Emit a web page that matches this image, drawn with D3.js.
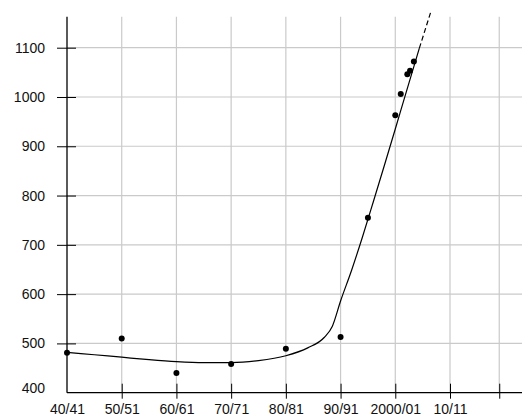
<!DOCTYPE html>
<html>
<head>
<meta charset="utf-8">
<script src="https://cdn.jsdelivr.net/npm/d3@7"></script>
<style>
  body { margin: 0; background: #fff; }
  svg text { font-family: "Liberation Sans", Arial, sans-serif; font-size: 14px; fill: #111; }
</style>
</head>
<body>
<svg class="chart" width="523" height="420"></svg>
<script>
// tick positions (start year of each season) and labels
var tickYears = [1940, 1950, 1960, 1970, 1980, 1990, 2000, 2010, 2019];
var tickLabels = ["40/41", "50/51", "60/61", "70/71", "80/81", "90/91", "2000/01", "10/11", ""];
var yTicks = [400, 500, 600, 700, 800, 900, 1000, 1100];

// observed points
var pointYears = [1940, 1950, 1960, 1970, 1980, 1990, 1995, 2000, 2001, 2002.2, 2002.7, 2003.4];
var pointValues = [481, 510, 440, 458, 489, 513, 755, 963, 1006, 1046, 1053, 1072];

// fitted trend (solid part) and its projection (dashed part)
var trendYears = [1940, 1945, 1950, 1955, 1960, 1965, 1970, 1975, 1980, 1984, 1987, 1988.5, 1990, 1992, 1994, 1996, 1998, 2000, 2002, 2004.4];
var trendValues = [482, 477, 472, 467, 463, 461, 461, 465, 475, 491, 512, 535, 586, 648, 716, 788, 861, 935, 1010, 1099];
var projYears = [2004.4, 2006.5];
var projValues = [1099, 1173];

var svg = d3.select('.chart');

var x = d3.scaleLinear().domain([1940, 2010]).range([67, 450]);
var y = d3.scaleLinear().domain([400, 1100]).range([392.7, 47.7]);

var xEnd = 522, yTop = 16.7;

// grid
svg.append('g')
  .selectAll('line')
  .data(yTicks.slice(1))
  .enter().append('line')
    .attr('x1', x(1940)).attr('x2', xEnd)
    .attr('y1', (d) => y(d)).attr('y2', (d) => y(d))
    .attr('stroke', '#cacaca').attr('stroke-width', 1.2);

svg.append('g')
  .selectAll('line')
  .data(tickYears.slice(1))
  .enter().append('line')
    .attr('x1', (d) => x(d)).attr('x2', (d) => x(d))
    .attr('y1', yTop).attr('y2', y(400))
    .attr('stroke', '#cacaca').attr('stroke-width', 1.2);

// y axis
var yAxis = svg.append('g')
  .attr('transform', 'translate(' + x(1940) + ',0)')
  .call(d3.axisLeft(y).tickValues(yTicks).tickSize(0).tickPadding(22).tickFormat(d3.format('d')));
yAxis.select('.domain').remove();
yAxis.selectAll('.tick line')
  .attr('x1', -10).attr('x2', 9)
  .attr('stroke', '#000')
  .attr('display', (d) => d === 400 ? 'none' : null);
yAxis.selectAll('.tick text')
  .attr('font-size', null).attr('font-family', null)
  .attr('dy', (d) => d === 400 ? '-0.05em' : '0.32em');

// x axis
var xAxis = svg.append('g')
  .attr('transform', 'translate(0,' + y(400) + ')')
  .call(d3.axisBottom(x).tickValues(tickYears).tickSize(0).tickPadding(11)
    .tickFormat((d, i) => tickLabels[i]));
xAxis.select('.domain').remove();
xAxis.selectAll('.tick line')
  .attr('y1', -9).attr('y2', 6)
  .attr('stroke', '#000')
  .attr('display', (d) => d === 1940 ? 'none' : null);
xAxis.selectAll('.tick text')
  .attr('font-size', null).attr('font-family', null);

// axis lines
svg.append('line')
  .attr('x1', x(1940)).attr('x2', x(1940))
  .attr('y1', yTop).attr('y2', y(400))
  .attr('stroke', '#000').attr('stroke-width', 1.3);
svg.append('line')
  .attr('x1', x(1940)).attr('x2', xEnd)
  .attr('y1', y(400)).attr('y2', y(400))
  .attr('stroke', '#000').attr('stroke-width', 1.3);

// trend line
var line = d3.line()
  .x((d) => x(d[0]))
  .y((d) => y(d[1]))
  .curve(d3.curveMonotoneX);

svg.append('path')
  .datum(d3.zip(trendYears, trendValues))
  .attr('d', line)
  .attr('fill', 'none')
  .attr('stroke', '#000')
  .attr('stroke-width', 1.2);

svg.append('path')
  .datum(d3.zip(projYears, projValues))
  .attr('d', line)
  .attr('fill', 'none')
  .attr('stroke', '#000')
  .attr('stroke-width', 1.2)
  .attr('stroke-dasharray', '5,3');

// points
svg.append('g')
  .selectAll('circle')
  .data(d3.zip(pointYears, pointValues))
  .enter().append('circle')
    .attr('cx', (d) => x(d[0]))
    .attr('cy', (d) => y(d[1]))
    .attr('r', 3)
    .attr('fill', '#000');
</script>
</body>
</html>
